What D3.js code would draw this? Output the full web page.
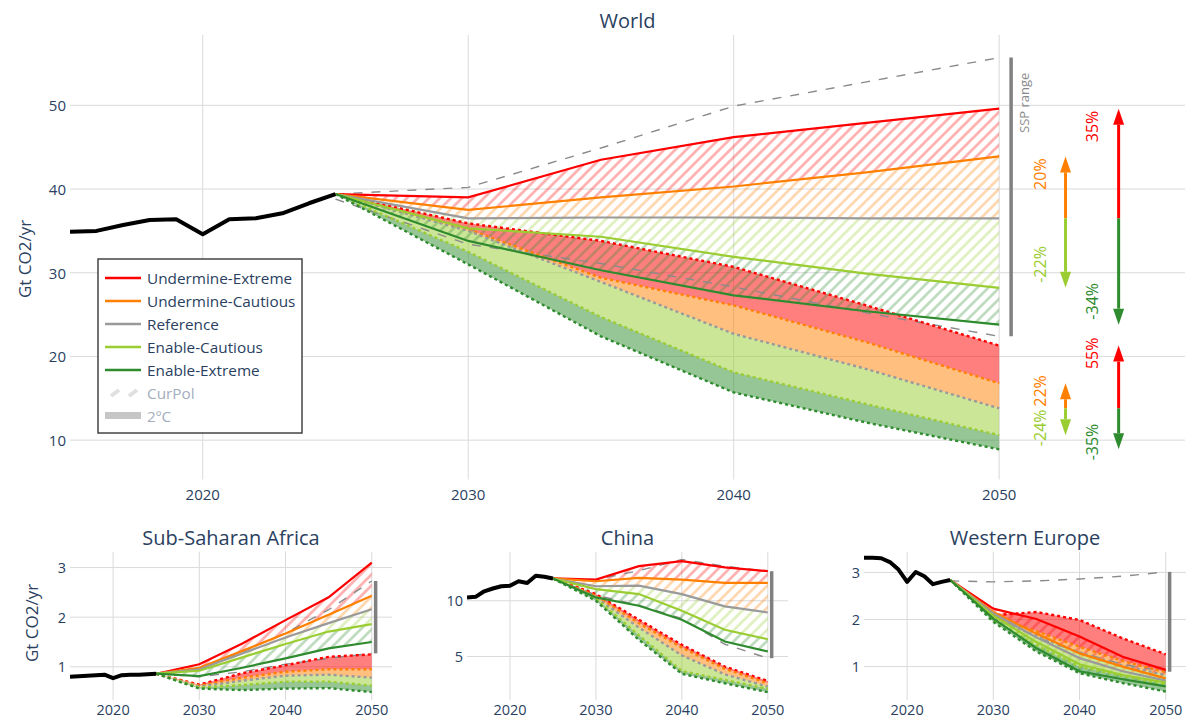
<!DOCTYPE html>
<html><head><meta charset="utf-8">
<script src="https://cdn.jsdelivr.net/npm/d3@7"></script>
<style>
body{margin:0;background:#fff;}
svg text{font-family:"Open Sans",sans-serif;}
</style></head>
<body><svg id="c" width="1187" height="719"></svg>
<script>
// ---------------- DATA ----------------
const histYears = [2015,2016,2017,2018,2019,2020,2021,2022,2023,2024,2025];
const scenYears = [2025,2030,2035,2040,2045,2050];
const scenarioNames = ["Undermine-Extreme","Undermine-Cautious","Reference","Enable-Cautious","Enable-Extreme"];
const scenarioColors = ["#ff0000","#ff8000","#9a9a9a","#9acd32","#2e8b2e"];
const xTickYears = [2020,2030,2040,2050];

// World (Gt CO2/yr)
const worldHist = [34.9,35.0,35.7,36.3,36.4,34.6,36.4,36.5,37.1,38.3,39.4];
const worldCurPol = [
  [39.4,39.0,43.5,46.2,47.9,49.6],
  [39.4,37.5,39.0,40.3,42.0,43.9],
  [39.4,36.5,36.6,36.6,36.5,36.5],
  [39.4,35.3,34.3,31.9,29.9,28.2],
  [39.4,33.8,30.3,27.3,25.4,23.8]];
const world2C = [
  [39.4,35.9,33.8,30.7,26.1,21.3],
  [39.4,35.2,29.4,26.1,21.7,16.8],
  [39.4,35.0,28.9,22.7,18.5,13.8],
  [39.4,32.5,24.7,18.1,14.3,10.6],
  [39.4,31.0,22.4,15.7,12.1,8.9]];
const worldSspHigh = [39.4,40.2,44.9,49.9,52.8,55.7];
const worldSspLow  = [38.8,33.4,31.1,28.3,25.2,22.4];
const worldYTicks = [10,20,30,40,50];
const worldCurPolPct = ["35%","20%","","-22%","-34%"];
const world2CPct = ["55%","22%","","-24%","-35%"];

// Sub-Saharan Africa
const ssaHist = [0.80,0.81,0.82,0.83,0.84,0.77,0.83,0.84,0.84,0.85,0.86];
const ssaCurPol = [
  [0.86,1.05,1.47,1.94,2.40,3.10],
  [0.86,0.98,1.32,1.67,2.05,2.43],
  [0.86,0.95,1.27,1.59,1.88,2.16],
  [0.86,0.92,1.19,1.46,1.71,1.86],
  [0.86,0.81,0.98,1.17,1.37,1.50]];
const ssa2C = [
  [0.86,0.64,0.87,1.03,1.20,1.25],
  [0.86,0.62,0.78,0.90,0.95,0.95],
  [0.86,0.60,0.72,0.82,0.84,0.78],
  [0.86,0.58,0.63,0.70,0.70,0.62],
  [0.86,0.56,0.53,0.56,0.57,0.49]];
const ssaSspHigh = [0.86,0.97,1.30,1.68,2.15,2.73];
const ssaSspLow  = [0.86,0.80,0.90,1.05,1.17,1.27];
const ssaYTicks = [1,2,3];

// China
const chinaHist = [10.3,10.35,10.85,11.1,11.3,11.35,11.75,11.6,12.25,12.15,12.0];
const chinaCurPol = [
  [12.0,11.9,13.1,13.55,13.0,12.65],
  [12.0,11.75,12.05,11.9,11.6,11.6],
  [12.0,11.3,11.35,10.6,9.5,8.95],
  [12.0,11.05,10.6,9.1,7.4,6.55],
  [12.0,10.3,9.55,8.3,6.35,5.45]];
const china2C = [
  [12.0,10.6,8.3,6.05,4.1,2.8],
  [12.0,10.45,8.0,5.8,3.9,2.6],
  [12.0,10.3,7.6,5.1,3.4,2.3],
  [12.0,10.2,6.9,3.7,2.9,2.1],
  [12.0,10.0,6.5,3.45,2.6,1.8]];
const chinaSspHigh = [12.0,11.9,12.7,13.7,13.1,12.65];
const chinaSspLow  = [12.0,10.5,9.6,8.4,6.1,4.85];
const chinaYTicks = [5,10];

// Western Europe
const weHist = [3.31,3.31,3.30,3.22,3.06,2.80,3.01,2.92,2.75,2.80,2.84];
const weCurPol = [
  [2.84,2.23,2.01,1.64,1.21,0.93],
  [2.84,2.16,1.70,1.28,1.00,0.75],
  [2.84,2.13,1.62,1.18,0.90,0.70],
  [2.84,2.08,1.52,1.05,0.82,0.66],
  [2.84,2.02,1.39,0.90,0.73,0.58]];
const we2C = [
  [2.84,2.09,2.16,1.99,1.60,1.26],
  [2.84,2.05,1.75,1.42,1.12,0.88],
  [2.84,2.03,1.65,1.30,1.02,0.82],
  [2.84,2.00,1.45,1.00,0.80,0.62],
  [2.84,1.95,1.32,0.86,0.65,0.47]];
const weSspHigh = [2.82,2.80,2.82,2.86,2.92,3.01];
const weSspLow  = [2.82,2.10,1.62,1.30,1.05,0.89];
const weYTicks = [1,2,3];

// ---------------- DRAWING ----------------
const TXT = "#2a3f5f";
const GRID = "#dadada";
const svg = d3.select("#c");
const defs = svg.append("defs");
const bandColorIdx = [0,1,3,4];

scenarioColors.forEach((c,i)=>{
  const p = defs.append("pattern").attr("id","hatch"+i)
    .attr("patternUnits","userSpaceOnUse").attr("width",11).attr("height",11);
  p.append("path").attr("d","M-2.75,2.75L2.75,-2.75M0,11L11,0M8.25,13.75L13.75,8.25")
    .attr("stroke",c).attr("stroke-opacity",0.3).attr("stroke-width",2.8);
});

function drawPanel(cfg){
  const x = d3.scaleLinear().domain(cfg.xDomain).range([cfg.left,cfg.right]);
  const y = d3.scaleLinear().domain(cfg.yDomain).range([cfg.bottom,cfg.top]);
  const g = svg.append("g");
  const cid = "clip-"+cfg.id;
  defs.append("clipPath").attr("id",cid).append("rect")
    .attr("x",cfg.left).attr("y",cfg.top)
    .attr("width",cfg.right-cfg.left).attr("height",cfg.bottom-cfg.top);

  g.append("g").selectAll("line").data(xTickYears).join("line")
    .attr("x1",d=>x(d)).attr("x2",d=>x(d)).attr("y1",cfg.top).attr("y2",cfg.bottom)
    .attr("stroke",GRID).attr("stroke-width",1);
  g.append("g").selectAll("line").data(cfg.yTicks).join("line")
    .attr("y1",d=>y(d)).attr("y2",d=>y(d)).attr("x1",cfg.left).attr("x2",cfg.right)
    .attr("stroke",GRID).attr("stroke-width",1);

  g.append("g").selectAll("text").data(xTickYears).join("text")
    .attr("x",d=>x(d)).attr("y",cfg.xLabelY).attr("text-anchor","middle")
    .attr("dominant-baseline","central").attr("font-size",cfg.tickSize).attr("fill",TXT)
    .text(d=>d);
  g.append("g").selectAll("text").data(cfg.yTicks).join("text")
    .attr("x",cfg.left-4).attr("y",d=>y(d)).attr("text-anchor","end")
    .attr("dominant-baseline","central").attr("font-size",cfg.tickSize).attr("fill",TXT)
    .text(d=>d);

  g.append("text").attr("x",(cfg.left+cfg.right)/2).attr("y",cfg.titleY)
    .attr("text-anchor","middle").attr("dominant-baseline","central")
    .attr("font-size",20).attr("fill",TXT).text(cfg.title);

  const plot = g.append("g").attr("clip-path",`url(#${cid})`);
  const area = d3.area().x(d=>x(d[0])).y0(d=>y(d[1])).y1(d=>y(d[2]));
  const line = d3.line().x(d=>x(d[0])).y(d=>y(d[1]));
  const band = (a,b)=>scenYears.map((yr,i)=>[yr,a[i],b[i]]);
  const pts = s=>scenYears.map((yr,i)=>[yr,s[i]]);

  for(let i=0;i<4;i++){
    plot.append("path").attr("d",area(band(cfg.twoC[i],cfg.twoC[i+1])))
      .attr("fill",scenarioColors[bandColorIdx[i]]).attr("fill-opacity",0.5);
  }
  for(let i=0;i<4;i++){
    plot.append("path").attr("d",area(band(cfg.curPol[i],cfg.curPol[i+1])))
      .attr("fill",`url(#hatch${bandColorIdx[i]})`);
  }
  [cfg.sspHigh,cfg.sspLow].forEach(s=>{
    plot.append("path").attr("d",line(pts(s))).attr("fill","none")
      .attr("stroke","#8a8a8a").attr("stroke-width",1.4).attr("stroke-dasharray","9,9");
  });
  cfg.twoC.forEach((s,i)=>{
    plot.append("path").attr("d",line(pts(s))).attr("fill","none")
      .attr("stroke",scenarioColors[i]).attr("stroke-width",2.4).attr("stroke-dasharray","3,3");
  });
  cfg.curPol.forEach((s,i)=>{
    plot.append("path").attr("d",line(pts(s))).attr("fill","none")
      .attr("stroke",scenarioColors[i]).attr("stroke-width",2.2);
  });
  plot.append("path").attr("d",line(histYears.map((yr,i)=>[yr,cfg.hist[i]])))
    .attr("fill","none").attr("stroke","#000").attr("stroke-width",4)
    .attr("stroke-linejoin","round");

  g.append("line").attr("x1",x(2050.45)).attr("x2",x(2050.45))
    .attr("y1",y(cfg.sspHigh[5])).attr("y2",y(cfg.sspLow[5]))
    .attr("stroke","#808080").attr("stroke-width",3.5);
  return {x,y,g};
}

// World main panel
const W = drawPanel({id:"world",title:"World",left:70,right:1185,top:35,bottom:479.5,
  xDomain:[2015,2057],yDomain:[5.3,58.4],yTicks:worldYTicks,xLabelY:494,tickSize:15,titleY:20,
  hist:worldHist,curPol:worldCurPol,twoC:world2C,sspHigh:worldSspHigh,sspLow:worldSspLow});

svg.append("text").attr("transform","translate(24,259) rotate(-90)")
  .attr("text-anchor","middle").attr("dominant-baseline","central")
  .attr("font-size",17).attr("fill",TXT).text("Gt CO2/yr");

// SSP label
W.g.append("text").attr("transform",`translate(${W.x(2050.45)+13},${W.y(worldSspHigh[5])+15}) rotate(-90)`)
  .attr("text-anchor","end").attr("dominant-baseline","central")
  .attr("font-size",13).attr("fill","#8a8a8a").text("SSP range");

// arrows
function arrow(xp,y0,y1,color){
  const dir = y1<y0?-1:1, head=16, hw=5.5;
  W.g.append("line").attr("x1",xp).attr("x2",xp).attr("y1",y0).attr("y2",y1-dir*head)
    .attr("stroke",color).attr("stroke-width",3);
  W.g.append("path").attr("d",`M${xp},${y1}L${xp-hw},${y1-dir*head}L${xp+hw},${y1-dir*head}Z`)
    .attr("fill",color);
}
function label(xp,yp,txt,color,anchor){
  W.g.append("text").attr("transform",`translate(${xp},${yp}) rotate(-90)`)
    .attr("text-anchor",anchor).attr("dominant-baseline","central")
    .attr("font-size",16).attr("fill",color).text(txt);
}
function arrowSet(series,pct,offUp,offDown){
  const ref = W.y(series[2][5]);
  const pairs = [[1,3,2052.5,2051.55],[0,4,2054.5,2053.5]];
  pairs.forEach(([up,down,ax,lx])=>{
    const xa = W.x(ax), xl = W.x(lx);
    const yu = W.y(series[up][5]), yd = W.y(series[down][5]);
    arrow(xa,ref,yu,scenarioColors[up]);
    arrow(xa,ref,yd,scenarioColors[down]);
    label(xl,yu+offUp,pct[up],scenarioColors[up],"end");
    label(xl,yd+offDown,pct[down],scenarioColors[down],"start");
  });
}
arrowSet(worldCurPol,worldCurPolPct,2,-5);
arrowSet(world2C,world2CPct,-8,11);

// legend
const lg = svg.append("g");
lg.append("rect").attr("x",98).attr("y",259).attr("width",204).attr("height",174)
  .attr("fill","#fff").attr("stroke","#444").attr("stroke-width",1.5);
scenarioNames.forEach((n,i)=>{
  const yy = 278 + i*23;
  lg.append("line").attr("x1",105).attr("x2",141).attr("y1",yy).attr("y2",yy)
    .attr("stroke",scenarioColors[i]).attr("stroke-width",2.5);
  lg.append("text").attr("x",147).attr("y",yy).attr("dominant-baseline","central")
    .attr("font-size",15.3).attr("fill",TXT).text(n);
});
lg.append("line").attr("x1",111).attr("y1",396).attr("x2",119).attr("y2",390).attr("stroke","#e0e0e0").attr("stroke-width",4);
lg.append("line").attr("x1",129).attr("y1",396).attr("x2",137).attr("y2",390).attr("stroke","#e0e0e0").attr("stroke-width",4);
lg.append("text").attr("x",147).attr("y",393).attr("dominant-baseline","central")
  .attr("font-size",15.3).attr("fill","#a3adbd").text("CurPol");
lg.append("line").attr("x1",105).attr("x2",141).attr("y1",415.5).attr("y2",415.5)
  .attr("stroke","#c6c6c6").attr("stroke-width",7);
lg.append("text").attr("x",147).attr("y",415.5).attr("dominant-baseline","central")
  .attr("font-size",15.3).attr("fill","#a3adbd").text("2ºC");

// Small panels
const small = {xDomain:[2015,2052.35],top:551.7,bottom:700,xLabelY:709,tickSize:14.5,titleY:537};
drawPanel(Object.assign({},small,{id:"ssa",title:"Sub-Saharan Africa",left:70,right:392,
  yDomain:[0.33,3.32],yTicks:ssaYTicks,hist:ssaHist,curPol:ssaCurPol,twoC:ssa2C,sspHigh:ssaSspHigh,sspLow:ssaSspLow}));
drawPanel(Object.assign({},small,{id:"china",title:"China",left:467,right:788,
  yDomain:[1.1,14.4],yTicks:chinaYTicks,hist:chinaHist,curPol:chinaCurPol,twoC:china2C,sspHigh:chinaSspHigh,sspLow:chinaSspLow}));
drawPanel(Object.assign({},small,{id:"we",title:"Western Europe",left:864,right:1186,
  yDomain:[0.29,3.44],yTicks:weYTicks,hist:weHist,curPol:weCurPol,twoC:we2C,sspHigh:weSspHigh,sspLow:weSspLow}));

svg.append("text").attr("transform","translate(31,623) rotate(-90)")
  .attr("text-anchor","middle").attr("dominant-baseline","central")
  .attr("font-size",17).attr("fill",TXT).text("Gt CO2/yr");
</script></body></html>
